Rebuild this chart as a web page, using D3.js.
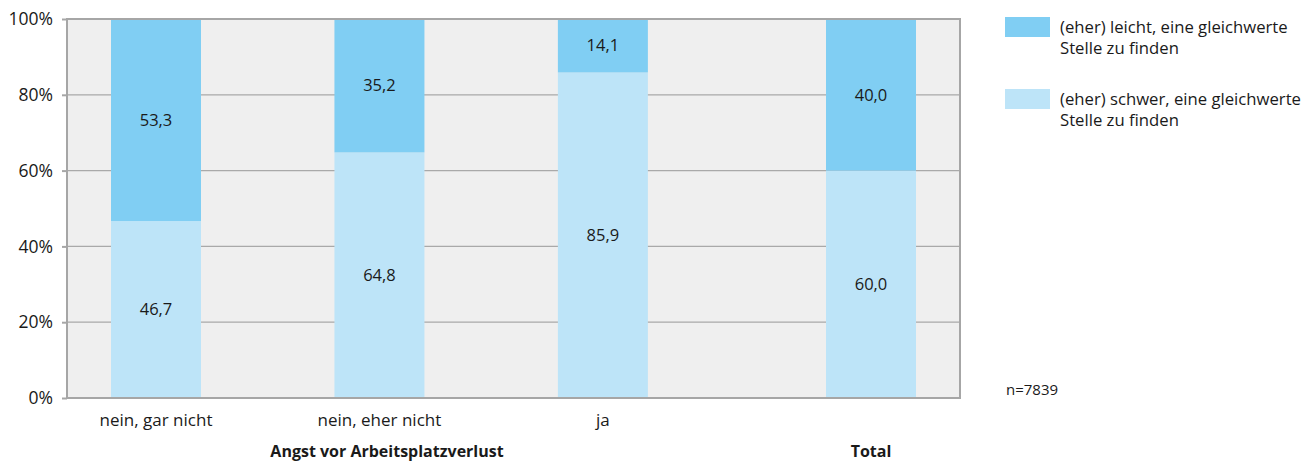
<!DOCTYPE html>
<html><head><meta charset="utf-8">
<script src="https://cdn.jsdelivr.net/npm/d3@7"></script>
<style>body{margin:0;background:#fff;} text{font-family:"Open Sans",sans-serif;fill:#1a1a1a;}</style>
</head><body>
<svg id="c" width="1311" height="463"></svg>
<script>
const categories = ["nein, gar nicht", "nein, eher nicht", "ja", "Total"];
const slots = [0, 1, 2, 3.2];
const schwer = [46.7, 64.8, 85.9, 60.0];
const leicht = [53.3, 35.2, 14.1, 40.0];
const seriesNames = ["(eher) leicht, eine gleichwerte|Stelle zu finden", "(eher) schwer, eine gleichwerte|Stelle zu finden"];
const yTicks = [0, 20, 40, 60, 80, 100];
const groupLabels = ["Angst vor Arbeitsplatzverlust", "Total"];
const nLabel = "n=7839";

const colLeicht = "#80cef3", colSchwer = "#bde4f8";
const svg = d3.select("#c");
const L = 67, R = 960, T = 19, B = 398;
const y = d3.scaleLinear().domain([0, 100]).range([B, T]);
const x = d3.scaleLinear().domain([0, 3.2]).range([156, 871]);
const bw = 90;

svg.append("rect").attr("x", L).attr("y", T).attr("width", R - L).attr("height", B - T).attr("fill", "#efefef");
svg.selectAll(".grid").data(yTicks.slice(1)).enter().append("line")
  .attr("x1", L).attr("x2", R).attr("y1", d => y(d)).attr("y2", d => y(d))
  .attr("stroke", "#a9a9a9").attr("stroke-width", 1.3);

const data = categories.map((c, i) => ({c, s: slots[i], schwer: schwer[i], leicht: leicht[i]}));
const g = svg.append("g");
g.selectAll(".bs").data(data).enter().append("rect")
  .attr("x", d => x(d.s) - bw / 2).attr("width", bw)
  .attr("y", d => y(d.schwer)).attr("height", d => B - y(d.schwer)).attr("fill", colSchwer);
g.selectAll(".bl").data(data).enter().append("rect")
  .attr("x", d => x(d.s) - bw / 2).attr("width", bw)
  .attr("y", d => y(d.schwer + d.leicht)).attr("height", d => y(d.schwer) - y(d.schwer + d.leicht)).attr("fill", colLeicht);

const fmt = v => v.toFixed(1).replace(".", ",");
g.selectAll(".ts").data(data).enter().append("text")
  .attr("x", d => x(d.s)).attr("y", d => y(d.schwer / 2)).attr("dy", "0.35em")
  .attr("text-anchor", "middle").attr("font-size", 16.5).text(d => fmt(d.schwer));
g.selectAll(".tl").data(data).enter().append("text")
  .attr("x", d => x(d.s)).attr("y", d => y(d.schwer + d.leicht / 2)).attr("dy", "0.35em")
  .attr("text-anchor", "middle").attr("font-size", 16.5).text(d => fmt(d.leicht));

// frame
svg.append("rect").attr("x", L).attr("y", T).attr("width", R - L).attr("height", B - T)
  .attr("fill", "none").attr("stroke", "#a6a6a6").attr("stroke-width", 2);

// y axis
const ya = svg.append("g").attr("transform", `translate(${L},0)`)
  .call(d3.axisLeft(y).tickValues(yTicks).tickSize(5).tickPadding(9).tickFormat(d => d + "%"));
ya.select(".domain").remove();
ya.selectAll("line").attr("stroke", "#a6a6a6").attr("stroke-width", 2);
ya.selectAll("text").attr("font-size", 17.5).attr("font-family", "Open Sans").attr("fill", "#1a1a1a");

// x labels
svg.selectAll(".xl").data(data.filter(d => d.c !== "Total")).enter().append("text")
  .attr("x", d => x(d.s)).attr("y", 426).attr("text-anchor", "middle").attr("font-size", 17).text(d => d.c);
svg.append("text").attr("x", 387).attr("y", 457).attr("text-anchor", "middle")
  .attr("font-size", 16).attr("font-weight", "bold").text(groupLabels[0]);
svg.append("text").attr("x", x(3.2)).attr("y", 457).attr("text-anchor", "middle")
  .attr("font-size", 16).attr("font-weight", "bold").text(groupLabels[1]);

// legend
const leg = svg.append("g");
[colLeicht, colSchwer].forEach((c, i) => {
  const yy = 17 + i * 72;
  leg.append("rect").attr("x", 1005).attr("y", yy).attr("width", 45).attr("height", 20).attr("fill", c);
  seriesNames[i].split("|").forEach((t, j) => {
    leg.append("text").attr("x", 1060).attr("y", yy + 16 + j * 21).attr("font-size", 16.7).text(t);
  });
});
svg.append("text").attr("x", 1006).attr("y", 395).attr("font-size", 15).text(nLabel);
</script>
</body></html>
